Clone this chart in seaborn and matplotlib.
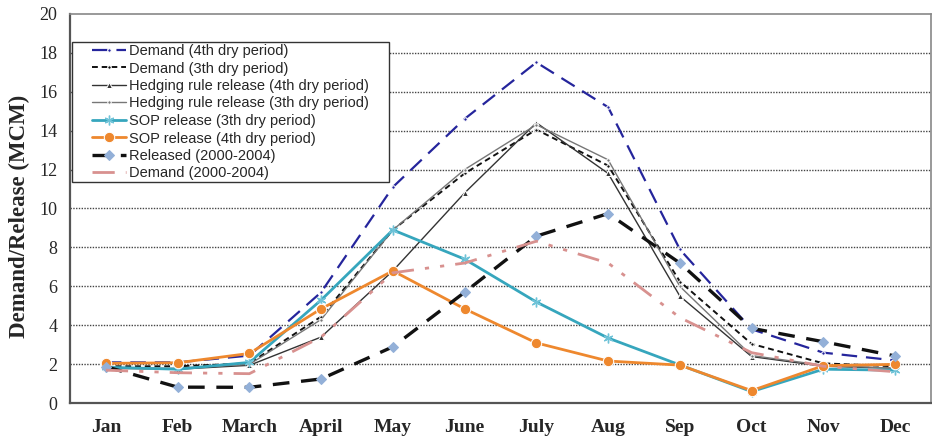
import numpy as np
import pandas as pd
import matplotlib
matplotlib.use("Agg")
import matplotlib.pyplot as plt
from matplotlib.patches import Rectangle
import seaborn as sns

months = ["Jan", "Feb", "March", "April", "May", "June",
          "July", "Aug", "Sep", "Oct", "Nov", "Dec"]

demand_4th = [2.1, 2.1, 2.45, 5.7, 11.1, 14.6, 17.5, 15.2, 7.9, 3.8, 2.6, 2.2]
demand_3rd = [1.9, 1.9, 2.05, 4.45, 8.9, 11.8, 14.05, 12.2, 6.25, 3.05, 2.05, 1.9]
hedging_4th = [1.8, 1.75, 1.95, 3.4, 6.8, 10.8, 14.4, 11.8, 5.5, 2.4, 1.9, 1.8]
hedging_3rd = [1.8, 1.8, 2.0, 4.3, 8.9, 12.0, 14.3, 12.5, 6.0, 2.45, 1.95, 1.8]
sop_3rd = [1.85, 1.75, 2.1, 5.3, 8.9, 7.4, 5.2, 3.35, 1.97, 0.6, 1.75, 1.7]
sop_4th = [2.05, 2.08, 2.56, 4.85, 6.8, 4.85, 3.1, 2.17, 1.96, 0.65, 1.93, 2.0]
released_0004 = [1.88, 0.83, 0.82, 1.25, 2.9, 5.7, 8.58, 9.74, 7.2, 3.85, 3.16, 2.43]
demand_0004 = [1.7, 1.57, 1.52, 3.4, 6.7, 7.2, 8.32, 7.2, 4.4, 2.6, 1.9, 1.62]

yticks = [0, 2, 4, 6, 8, 10, 12, 14, 16, 18, 20]

series = [
    ("Demand (4th dry period)", demand_4th,
     dict(color="#25259c", lw=1.6, ls=(0, (7, 4)), marker="o", ms=2.5)),
    ("Demand (3th dry period)", demand_3rd,
     dict(color="#111111", lw=1.4, ls=(0, (3, 2)), marker="o", ms=2.5)),
    ("Hedging rule release (4th dry period)", hedging_4th,
     dict(color="#333333", lw=1.0, ls="-", marker="^", ms=5)),
    ("Hedging rule release (3th dry period)", hedging_3rd,
     dict(color="#777777", lw=1.0, ls="-", marker="o", ms=2.5)),
    ("SOP release (3th dry period)", sop_3rd,
     dict(color="#36a6bd", lw=2.0, ls="-", marker=(6, 2, 0), ms=7,
          mec="#6fc3d8", mew=1.0)),
    ("SOP release (4th dry period)", sop_4th,
     dict(color="#ee882e", lw=2.0, ls="-", marker="o", ms=7.5)),
    ("Released (2000-2004)", released_0004,
     dict(color="#111111", lw=2.4, ls=(0, (5, 3.5)), marker="D", ms=5.5,
          mfc="#93b0d8", mec="#93b0d8")),
    ("Demand (2000-2004)", demand_0004,
     dict(color="#d8918f", lw=2.0, ls=(0, (8, 4, 1.5, 4, 1.5, 4)))),
]

sns.set_style("white")
plt.rcParams["font.family"] = ["Liberation Sans", "DejaVu Sans"]

W, H = 932, 438
fig = plt.figure(figsize=(W / 100, H / 100), dpi=100)
ax = fig.add_axes([70 / W, 34.7 / H, 861 / W, 389.6 / H])

for name, vals, style in series:
    df = pd.DataFrame({"month": months, "value": vals})
    sns.lineplot(data=df, x="month", y="value", ax=ax, sort=False,
                 label=name, **style)

ax.set_xlim(-0.5, 11.5)
ax.set_ylim(0, 20)
ax.set_yticks(yticks)
ax.set_yticklabels([str(v) for v in yticks],
                   fontfamily="Liberation Serif", fontsize=13)
ax.set_xticks(range(len(months)))
ax.set_xticklabels(months, fontfamily="Liberation Serif",
                   fontweight="bold", fontsize=14)
ax.set_xticks(np.arange(-0.5, 12, 1), minor=True)
ax.tick_params(axis="x", which="major", length=0, pad=11)
ax.tick_params(axis="x", which="minor", length=6, width=1.2,
               color="#555555", direction="out")
ax.tick_params(axis="y", which="major", length=6, width=1.2,
               color="#555555", direction="out", pad=3)

ax.set_xlabel("")
ax.set_ylabel("Demand/Release (MCM)", fontfamily="Liberation Serif",
              fontweight="bold", fontsize=16.5)
ax.yaxis.set_label_coords(-40 / 861, 0.48)

for y in yticks[1:-1]:
    ax.axhline(y, color="#444444", lw=1.0, ls=(0, (1, 1)), zorder=0)

for side in ("left", "bottom"):
    ax.spines[side].set_color("#555555")
    ax.spines[side].set_linewidth(1.6)
for side in ("top", "right"):
    ax.spines[side].set_color("#888888")
    ax.spines[side].set_linewidth(1.2)

# legend box drawn as its own framed panel with wide side margins
frame = Rectangle((72 / W, 1 - 181.7 / H), (389 - 72) / W, 140 / H,
                  transform=fig.transFigure, facecolor="white",
                  edgecolor="#333333", linewidth=1.0, zorder=4.5,
                  clip_on=False)
ax.add_patch(frame)

leg = ax.legend(loc="upper left",
                bbox_to_anchor=((92 - 70) / 861, (403.3 - 44) / 389.6),
                borderaxespad=0, borderpad=0, frameon=False,
                fontsize=10.5, handlelength=2.3,
                handletextpad=0.25, labelspacing=0.24)
leg.set_zorder(5)

fig.savefig("out.png", dpi=100)
